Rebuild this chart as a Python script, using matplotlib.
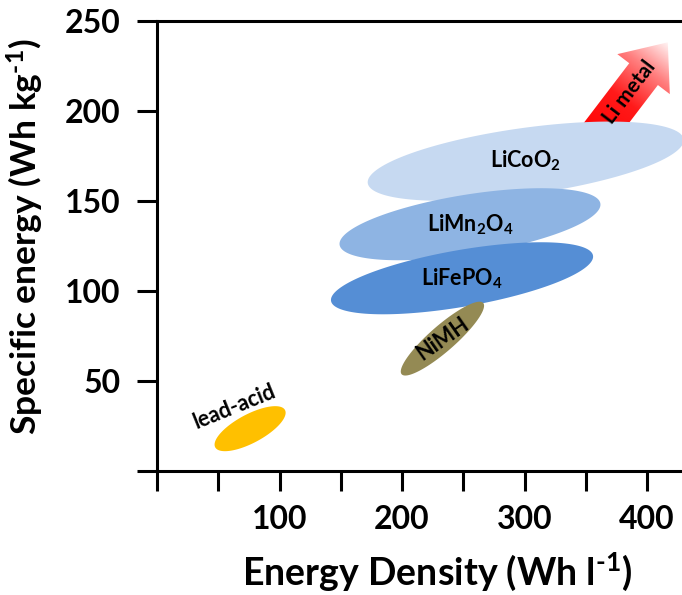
import numpy as np
import matplotlib
matplotlib.use("Agg")
import matplotlib.pyplot as plt
from matplotlib.patches import Polygon
from matplotlib.colors import LinearSegmentedColormap

plt.rcParams['font.family'] = ['Lato', 'DejaVu Sans']
plt.rcParams['mathtext.fontset'] = 'custom'
plt.rcParams['mathtext.rm'] = 'Lato:bold'
plt.rcParams['mathtext.bf'] = 'Lato:bold'
plt.rcParams['mathtext.it'] = 'Lato:bold'

# ---- data (ranges of energy density [Wh/l] and specific energy [Wh/kg]) ----
chemistries = ['LiCoO$_2$', 'LiMn$_2$O$_4$', 'LiFePO$_4$', 'NiMH', 'lead-acid']
dens_min = [172, 149, 142, 199, 47]
dens_max = [430, 362, 356, 267, 105]
spec_min = [150, 117, 87, 53, 11]
spec_max = [194, 157, 127, 94, 36]
tilt_deg = [58, 57, 53, 27, 45]          # phase between x and y (90 = untilted)
colors = ['#C6D9F1', '#8EB4E3', '#558ED5', '#948A54', '#FFC000']
label_rot = [0, 0, 0, 35, 22]
label_offset = [(0, 0), (0, 0), (0, 0), (0, 0), (-13, 12)]

arrow_start = (352, 180)
arrow_end = (417, 238)
arrow_label = 'Li metal'

xticks = [0, 50, 100, 150, 200, 250, 300, 350, 400]
xticklabels = ['', '', '100', '', '200', '', '300', '', '400']
yticks = [0, 50, 100, 150, 200, 250]
yticklabels = ['', '50', '100', '150', '200', '250']

fig = plt.figure(figsize=(6.82, 5.95), dpi=100)
W, H = 682, 595
x0px, x1px = 157, 682
ybot, ytop = 471, 20.7
ax = fig.add_axes([x0px / W, (H - ybot) / H, (x1px - x0px) / W, (ybot - ytop) / H])
ax.set_xlim(0, (x1px - x0px) / 1.225)
ax.set_ylim(0, 250)

t = np.linspace(0, 2 * np.pi, 400)
for name, a, b, c, d, ph, col, rot, off in zip(chemistries, dens_min, dens_max, spec_min,
                                              spec_max, tilt_deg, colors, label_rot, label_offset):
    cx, cy = (a + b) / 2, (c + d) / 2
    rx, ry = (b - a) / 2, (d - c) / 2
    xs = cx + rx * np.cos(t)
    ys = cy + ry * np.cos(t - np.deg2rad(ph))
    ax.fill(xs, ys, color=col, lw=0, zorder=4)
    ax.text(cx + off[0], cy + off[1], name, ha='center', va='center', rotation=rot,
            fontsize=15.5, fontweight='bold', zorder=5)

# ---- gradient arrow ----
fig.canvas.draw()
tr = ax.transData
p0 = tr.transform(arrow_start)
p1 = tr.transform(arrow_end)
v = p1 - p0
L = np.hypot(*v)
u = v / L
n = np.array([-u[1], u[0]])
sw, hw, hl = 18, 33, 40
pts = [p0 + n * sw, p0 + u * (L - hl) + n * sw, p0 + u * (L - hl) + n * hw, p1,
       p0 + u * (L - hl) - n * hw, p0 + u * (L - hl) - n * sw, p0 - n * sw]
pts_d = tr.inverted().transform(np.array(pts))
poly = Polygon(pts_d, closed=True, facecolor='none', edgecolor='none', zorder=3)
ax.add_patch(poly)
xmin, ymin = pts_d.min(axis=0)
xmax, ymax = pts_d.max(axis=0)
gx = np.linspace(xmin, xmax, 200)
gy = np.linspace(ymin, ymax, 200)
GX, GY = np.meshgrid(gx, gy)
disp = tr.transform(np.column_stack([GX.ravel(), GY.ravel()]))
proj = ((disp - p0) @ u) / L
proj = np.clip(proj, 0, 1).reshape(GX.shape)
cmap = LinearSegmentedColormap.from_list('rw', [(0, '#FF0000'), (0.45, '#FF1A1A'),
                                                (0.75, '#FF8080'), (1, '#FFF4F4')])
im = ax.imshow(proj, extent=(xmin, xmax, ymin, ymax), origin='lower', cmap=cmap,
               aspect='auto', zorder=3, vmin=0, vmax=1, interpolation='bilinear')
im.set_clip_path(poly)
ang = np.degrees(np.arctan2(v[1], v[0]))
mid = tr.inverted().transform(p0 + u * L * 0.52)
ax.text(mid[0], mid[1], arrow_label, rotation=ang, ha='center', va='center',
        fontsize=15, fontweight='bold', zorder=6)

# ---- axes styling ----
for s in ['left', 'bottom', 'top']:
    ax.spines[s].set_linewidth(2.2)
ax.spines['right'].set_visible(False)
ax.set_xticks(xticks)
ax.set_xticklabels(xticklabels)
ax.set_yticks(yticks)
ax.set_yticklabels(yticklabels)
ax.tick_params(direction='out', length=14.5, width=2.2, labelsize=23)
ax.tick_params(axis='y', pad=12)
ax.tick_params(axis='x', pad=10)
for lab in ax.get_xticklabels() + ax.get_yticklabels():
    lab.set_fontweight('bold')
ax.set_xlabel(r'Energy Density (Wh l$^{\text{-1}}$)', fontsize=27, fontweight='bold')
ax.set_ylabel(r'Specific energy (Wh kg$^{\text{-1}}$)', fontsize=25.5, fontweight='bold')
ax.xaxis.set_label_coords((437 - x0px) / (x1px - x0px), (ybot - 550) / (ybot - ytop))
ax.yaxis.set_label_coords((46 - x0px) / (x1px - x0px), (ybot - 237) / (ybot - ytop))

fig.savefig('out.png', dpi=100)
